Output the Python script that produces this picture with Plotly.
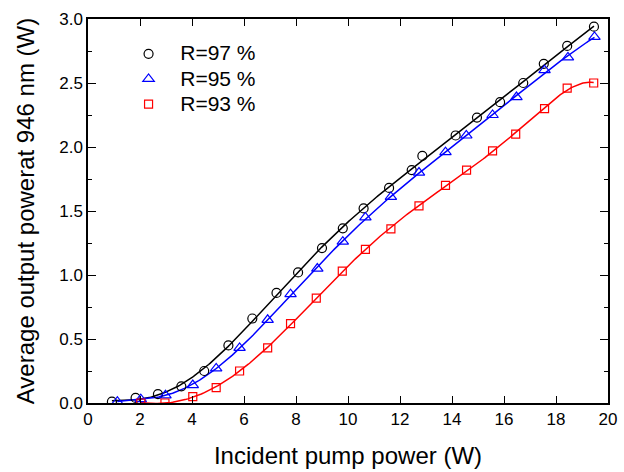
import numpy as np
import plotly.graph_objects as go

# R = 97 %
x97 = [0.92, 1.83, 2.69, 3.59, 4.47, 5.40, 6.32, 7.25, 8.08, 9.0, 9.80, 10.60, 11.58, 12.45, 12.86,
       14.14, 14.96, 15.85, 16.74, 17.53, 18.43, 19.46]
y97 = [0.01, 0.04, 0.07, 0.13, 0.25, 0.45, 0.66, 0.86, 1.02, 1.21, 1.365, 1.52, 1.68, 1.82, 1.93,
       2.09, 2.23, 2.35, 2.50, 2.65, 2.79, 2.94]

# R = 95 %
x95 = [1.13, 2.03, 2.98, 4.03, 4.93, 5.83, 6.91, 7.79, 8.82, 9.80, 10.67, 11.65, 12.73, 13.75,
       14.55, 15.56, 16.48, 17.56, 18.46, 19.48]
y95 = [0.01, 0.03, 0.06, 0.14, 0.27, 0.43, 0.65, 0.85, 1.05, 1.26, 1.45, 1.61, 1.80, 1.96,
       2.09, 2.25, 2.39, 2.60, 2.70, 2.86]

# R = 93 %
x93 = [2.03, 2.96, 4.03, 4.93, 5.83, 6.91, 7.79, 8.78, 9.78, 10.67, 11.65, 12.73, 13.75, 14.56,
       15.56, 16.45, 17.56, 18.43, 19.45]
y93 = [0.0, 0.0, 0.05, 0.12, 0.25, 0.43, 0.62, 0.82, 1.03, 1.20, 1.36, 1.54, 1.70, 1.82,
       1.97, 2.10, 2.30, 2.46, 2.50]

series = [
    ("R=97 %", x97, y97, "black", "circle-open", 9),
    ("R=95 %", x95, y95, "#0000FF", "triangle-up-open", 10),
    ("R=93 %", x93, y93, "#FF0000", "square-open", 8),
]

FONT = "Liberation Sans, Arial"

fig = go.Figure()
# smooth fitted curves through each measured series (least-squares fit of the data above)
for name, xs, ys, col, sym, sz in series:
    xa, ya = np.array(xs), np.array(ys)
    coef = np.polyfit(xa, ya, 7)
    xf = np.linspace(xa.min(), xa.max(), 300)
    yf = np.polyval(coef, xf)
    fig.add_trace(go.Scatter(x=xf, y=yf, mode="lines", line=dict(color=col, width=1.5),
                             showlegend=False, hoverinfo="skip"))
for name, xs, ys, col, sym, sz in series:
    fig.add_trace(go.Scatter(x=xs, y=ys, mode="markers",
                             name='<span style="font-size:21px">  ' + name + '</span>',
                             marker=dict(symbol=sym, color=col, size=sz, line=dict(color=col, width=1.2))))

axis_common = dict(showline=True, linecolor="black", linewidth=1.5, mirror="allticks", ticks="inside",
                   tickcolor="black", showgrid=False, zeroline=False, automargin=False,
                   tickfont=dict(family=FONT, size=17, color="black"))

fig.update_xaxes(range=[0, 20], dtick=2, tick0=0, ticklen=7, tickwidth=1.2,
                 title=dict(text="Incident pump power (W)", font=dict(family=FONT, size=24, color="black"), standoff=19),
                 **axis_common)
fig.update_yaxes(range=[0, 3.0], dtick=0.5, tick0=0, ticklen=8, tickwidth=1.2, tickformat=".1f",
                 minor=dict(dtick=0.25, ticks="inside", ticklen=4, tickcolor="black", tickwidth=1.2),
                 title=dict(text="Average output powerat 946 nm (W)", font=dict(family=FONT, size=24, color="black"), standoff=18),
                 **axis_common)

fig.update_layout(
    width=624, height=472,
    margin=dict(l=88, r=16, t=19, b=69),
    paper_bgcolor="white", plot_bgcolor="white",
    legend=dict(x=0.078, y=0.955, xanchor="left", yanchor="top", bgcolor="rgba(0,0,0,0)",
                font=dict(family=FONT, size=17, color="black"), tracegroupgap=0),
)

fig.write_html("out.html")
